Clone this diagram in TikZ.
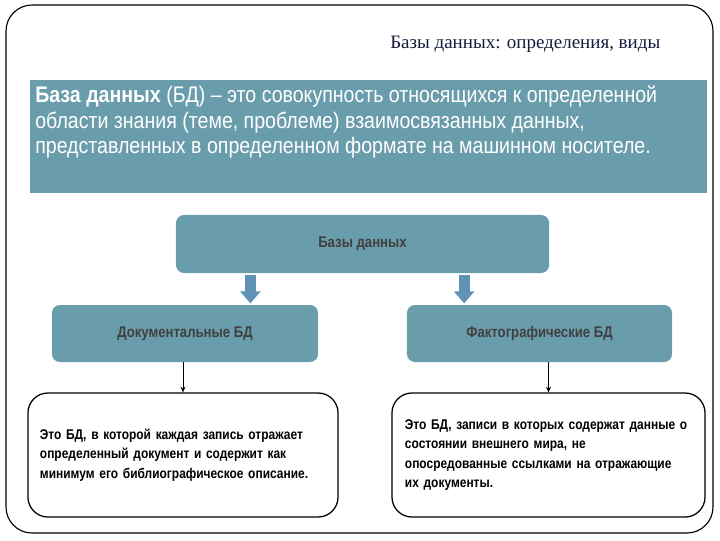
\documentclass[tikz,border=0pt]{standalone}
\usepackage{fontspec}
\setmainfont{Liberation Serif}
\newfontfamily\narrowsans[FakeStretch=0.85]{Liberation Sans}
\newfontfamily\defsans[FakeStretch=0.87]{Liberation Sans}
\usetikzlibrary{positioning, calc, arrows.meta}

\definecolor{slideteal}{RGB}{106,157,171}
\definecolor{arrowblue}{RGB}{96,146,182}
\definecolor{titlenavy}{RGB}{22,26,62}

\begin{document}
\begin{tikzpicture}[x=0.025cm, y=-0.025cm,
  tealbox/.style={fill=slideteal, rounded corners=0.2cm, inner sep=0pt,
    font=\narrowsans\bfseries\fontsize{11}{13}\selectfont, text=black!75},
  descbox/.style={draw=black, line width=0.9pt, fill=white, rounded corners=0.5cm,
    align=left, inner ysep=0pt, minimum height=3.1cm,
    font=\narrowsans\bfseries\fontsize{10}{13.8}\selectfont},
  blockarrow/.style={arrowblue, line width=0.275cm, shorten >=1pt,
    -{Triangle[width=0.5cm, length=0.3cm]}},
  thinarrow/.style={black, line width=0.6pt, -{Stealth[length=4pt, width=3.5pt]}}
]
\useasboundingbox (0,0) rectangle (720,540);

% slide frame
\draw[line width=0.8pt, rounded corners=0.65cm] (6,5) rectangle (713,533);

\node[titlenavy, font=\fontsize{13.5}{16}\selectfont, anchor=base west, inner sep=0pt] (title)
  at (390,48) {Базы данных: определения, виды};

% definition
\node[fill=slideteal, anchor=north west, inner sep=0pt,
  minimum width=16.925cm, minimum height=2.825cm] (defbox) at (30,80) {};
\node[anchor=north west, inner sep=0pt, text=white, align=left,
  font=\defsans\fontsize{16}{18}\selectfont] (deftext) at (35,86)
  {\textbf{База данных} (БД) – это совокупность относящихся к определенной\\
   области знания (теме, проблеме) взаимосвязанных данных,\\
   представленных в определенном формате на машинном носителе.};

% tree
\node[tealbox, minimum width=9.325cm, minimum height=1.45cm] (dbs) at (362.5,244) {Базы данных};
\node[tealbox, minimum width=6.65cm, minimum height=1.425cm] (docs) at (185,333.5) {Документальные БД};
\node[tealbox, minimum width=6.625cm, minimum height=1.425cm] (facts) at (539.5,333.5) {Фактографические БД};

\node[descbox, inner xsep=0.3cm, text width=7.15cm] (docdesc) at (183,455)
  {Это БД, в которой каждая запись отражает\\
   определенный документ и содержит как\\
   минимум его библиографическое описание.};
\node[descbox, inner xsep=0.325cm, text width=7.175cm] (factdesc) at (548.5,455)
  {Это БД, записи в которых содержат данные о\\
   состоянии внешнего мира, не\\
   опосредованные ссылками на отражающие\\
   их документы.};

\coordinate (la) at ($(dbs.south west)!0.2!(dbs.south east)$);
\coordinate (ra) at ($(dbs.south west)!0.772!(dbs.south east)$);
\draw[blockarrow] ([yshift=-1pt]la) -- (la |- docs.north);
\draw[blockarrow] ([yshift=-1pt]ra) -- (ra |- docs.north);

\draw[thinarrow] (docs.south -| docdesc.north) -- (docdesc.north);
\draw[thinarrow] (facts.south -| factdesc.north) -- (factdesc.north);

\end{tikzpicture}
\end{document}
